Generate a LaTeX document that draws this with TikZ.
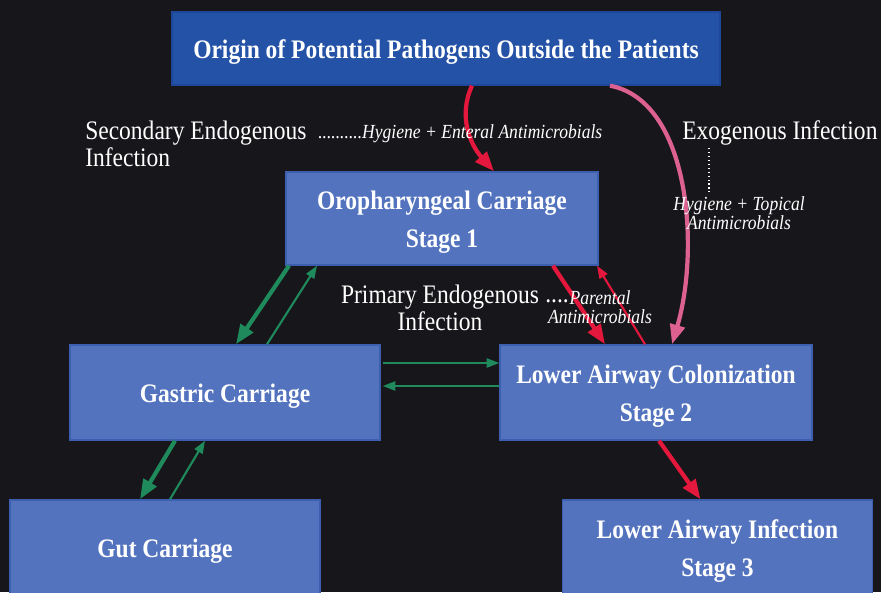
\documentclass[tikz,border=0pt]{standalone}
\usepackage{fontspec}
\setmainfont{Liberation Serif}[FakeStretch=0.88]
\usetikzlibrary{arrows.meta,calc}
\definecolor{backdrop}{HTML}{17161A}
\definecolor{topblue}{HTML}{2452A6}
\definecolor{topedge}{HTML}{1E4699}
\definecolor{boxblue}{HTML}{5373BE}
\definecolor{boxedge}{HTML}{3D5FB0}
\definecolor{pathred}{HTML}{E3183C}
\definecolor{exopink}{HTML}{DC6190}
\definecolor{pathgreen}{HTML}{1F8A5C}
\newcommand{\boxstrut}{\rule{0pt}{18.6pt}}

\begin{document}
\begin{tikzpicture}[x=0.025cm, y=-0.025cm,
        box/.style={draw=boxedge, fill=boxblue, line width=1pt, inner sep=0,
            minimum width=7.8cm, minimum height=2.375cm, align=center, text=white,
            font=\fontsize{19}{27}\selectfont\bfseries},
        lbl/.style={text=white, inner sep=0, font=\fontsize{19}{19.2}\selectfont},
        note/.style={text=white, inner sep=0, font=\fontsize{14.2}{13.5}\selectfont\itshape},
        fat/.style={line width=3pt, -{Triangle[length=14pt,width=10.5pt]}},
        slim/.style={line width=1.5pt, -{Triangle[length=9pt,width=6.5pt]}}]
    \useasboundingbox (0,0) rectangle (881,592);
    \fill [backdrop] (0,0) rectangle (881,592);
    \clip (0,0) rectangle (881,592);

    \node (origin) [box, fill=topblue, draw=topedge, minimum width=13.7cm, minimum height=1.825cm]
        at (446,48.5) {\boxstrut Origin of Potential Pathogens Outside the Patients};
    \node (oro) [box, minimum height=2.325cm] at (442,218.5) {\boxstrut Oropharyngeal Carriage\\Stage 1};
    \node (gastric) [box, minimum width=7.75cm] at (225,392.5) {\boxstrut Gastric Carriage};
    \node (colon) [box] at (656,392.5) {\boxstrut Lower Airway Colonization\\Stage 2};
    \node (gut) [box, minimum width=7.75cm] at (165,547.5) {\boxstrut Gut Carriage};
    \node (infect) [box, minimum width=7.75cm] at (717.5,547.5) {\boxstrut Lower Airway Infection\\Stage 3};

    % red and pink routes
    \draw [fat, pathred] ($(origin.south)+(26,0)$) .. controls +(-14,30) and +(-24,-27) .. ($(oro.north)+(52,0)$);
    \draw [fat, exopink] ($(origin.south)+(164,0)$) .. controls +(80,15) and +(28,-95) .. ($(colon.north)+(16,0)$);
    \draw [fat, pathred] ($(oro.south)+(111,0)$) -- ($(colon.north)+(-51,0)$);
    \draw [slim, pathred] ($(colon.north)+(-11,0)$) -- ($(oro.south)+(155,0)$);
    \draw [fat, pathred] ($(colon.south)+(3,0)$) -- ($(infect.north)+(-17,0)$);

    % green exchanges
    \draw [fat, pathgreen] ($(oro.south)+(-153,0)$) -- ($(gastric.north)+(11,0)$);
    \draw [slim, pathgreen] ($(gastric.north)+(42,0)$) -- ($(oro.south)+(-125,0)$);
    \draw [slim, pathgreen] ($(gastric.east)+(2,-29.5)$) -- ($(colon.west)+(0,-29.5)$);
    \draw [slim, pathgreen] ($(colon.west)+(0,-6.5)$) -- ($(gastric.east)+(2,-6.5)$);
    \draw [fat, pathgreen] ($(gastric.south)+(-50,0)$) -- ($(gut.north)+(-25,0)$);
    \draw [slim, pathgreen] ($(gut.north)+(5,0)$) -- ($(gastric.south)+(-20,0)$);

    % labels
    \node (secondary) [lbl, align=left, anchor=north west] at (85,121) {Secondary Endogenous\\Infection};
    \node (enteral) [note, anchor=base west] at (318,138.5) {..........Hygiene + Enteral Antimicrobials};
    \node (exogenous) [lbl, anchor=base west] at (682,139) {Exogenous Infection};
    \coordinate (dotTop) at (709,148);
    \coordinate (dotBot) at (709,192);
    \draw [white, dotted, line width=0.8pt] (dotTop) -- (dotBot);
    \node (topical) [note, align=center, anchor=north] at (739,196) {Hygiene + Topical\\Antimicrobials};
    \node (primary) [lbl, align=center, anchor=north] at (440,285) {Primary Endogenous\\Infection};
    \node (dots) [lbl, anchor=base west] at (545,302) {....};
    \node (parental) [note, align=center, anchor=north] at (600,290) {Parental\\Antimicrobials};
\end{tikzpicture}
\end{document}
